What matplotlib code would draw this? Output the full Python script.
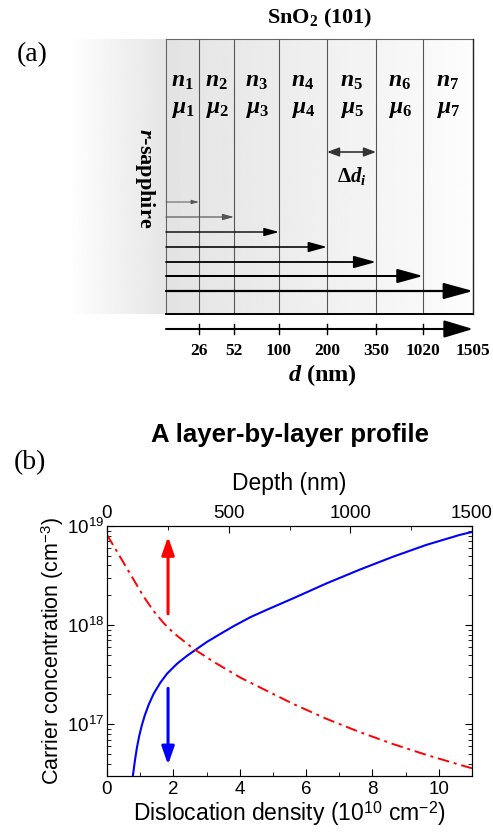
import numpy as np
import matplotlib
matplotlib.use("Agg")
import matplotlib.pyplot as plt
from matplotlib.ticker import MultipleLocator, LogLocator, NullFormatter

plt.rcParams['mathtext.fontset'] = 'custom'
plt.rcParams['mathtext.rm'] = 'Liberation Serif:bold'
plt.rcParams['mathtext.bf'] = 'Liberation Serif:bold'
plt.rcParams['mathtext.it'] = 'Liberation Serif:italic:bold'

# ---- panel (a): layer schematic ----
layer_ids = [1, 2, 3, 4, 5, 6, 7]
depth_labels = ['26', '52', '100', '200', '350', '1020', '1505']
# drawing geometry of the schematic (pixel units of the panel)
bound_x = [166, 199, 234, 279, 327, 376, 423, 473]
arrow_y = [202, 217, 232, 247, 262, 276, 291]

# ---- panel (b): profiles (log10 of concentration) ----
blue_dd = [0.78, 0.84, 0.90, 0.97, 1.05, 1.14, 1.26, 1.41, 1.61, 1.81, 2.11,
           2.41, 2.71, 3.01, 3.41, 3.82, 4.32, 4.82, 5.61, 6.61, 7.62, 8.62,
           9.63, 10.63, 11.0]
blue_log = [16.48, 16.63, 16.76, 16.88, 16.99, 17.09, 17.20, 17.31, 17.42,
            17.51, 17.61, 17.69, 17.76, 17.83, 17.91, 17.99, 18.08, 18.155,
            18.27, 18.42, 18.56, 18.69, 18.81, 18.91, 18.94]
red_depth = [0, 27, 68, 109, 150, 192, 233, 274, 356, 438, 548, 650, 765,
             901, 1039, 1175, 1313, 1450, 1500]
red_log = [18.91, 18.80, 18.63, 18.46, 18.29, 18.14, 18.02, 17.92, 17.76,
           17.63, 17.47, 17.345, 17.205, 17.055, 16.92, 16.80, 16.69, 16.59,
           16.555]

fig = plt.figure(figsize=(4.93, 8.33), dpi=100)

# panel (a) drawn in pixel coordinates of the top part of the figure
axa = fig.add_axes([0, 1 - 400 / 833, 1, 400 / 833])
axa.set_xlim(0, 493)
axa.set_ylim(400, 0)
axa.axis('off')

top, bot = 39, 314
grad = np.linspace(0, 1, 256)[None, :]
axa.imshow(1 - 0.10 * grad, cmap='gray', vmin=0, vmax=1, aspect='auto',
           extent=[67, bound_x[0], bot, top], zorder=0)
axa.imshow(0.89 + 0.10 * grad, cmap='gray', vmin=0, vmax=1, aspect='auto',
           extent=[bound_x[0], bound_x[-1], bot, top], zorder=0)

for x in bound_x[1:-1]:
    axa.plot([x, x], [top, bot], color='#555555', lw=0.8)
axa.plot([bound_x[0], bound_x[-1]], [top, top], color='#666666', lw=0.8)
axa.plot([bound_x[0], bound_x[0]], [top, bot], color='#666666', lw=0.8)
axa.plot([bound_x[-1], bound_x[-1]], [top, bot], color='#222222', lw=1.0)
axa.plot([bound_x[0], bound_x[-1]], [bot, bot], color='black', lw=1.4)

for i, k in enumerate(layer_ids):
    xc = 0.5 * (bound_x[i] + bound_x[i + 1])
    axa.text(xc, 80, r'$n_{%d}$' % k, ha='center', va='center', fontsize=17)
    axa.text(xc, 108, r'$\mu_{%d}$' % k, ha='center', va='center', fontsize=17)

for i, y in enumerate(arrow_y):
    lw = 0.7 + 0.15 * i
    col = '#555555' if i < 2 else 'black'
    axa.annotate('', xy=(bound_x[i + 1], y), xytext=(bound_x[0], y),
                 arrowprops=dict(arrowstyle='-|>,head_length=0.4,head_width=0.11',
                                 color=col, lw=lw, mutation_scale=11 + 5.7 * i,
                                 shrinkA=0, shrinkB=0))

axa.annotate('', xy=(bound_x[5], 152), xytext=(bound_x[4], 152),
             arrowprops=dict(arrowstyle='<|-|>,head_length=0.4,head_width=0.15',
                             color='#333333', lw=1.2, mutation_scale=18,
                             shrinkA=0, shrinkB=0))
axa.text(0.5 * (bound_x[4] + bound_x[5]), 176, r'$\Delta d_i$',
         ha='center', va='center', fontsize=15)

axa.annotate('', xy=(bound_x[-1], 329), xytext=(bound_x[0], 329),
             arrowprops=dict(arrowstyle='-|>,head_length=0.4,head_width=0.12',
                             color='black', lw=1.5, mutation_scale=45,
                             shrinkA=0, shrinkB=0))
for x, lab in zip(bound_x[1:], depth_labels):
    if x != bound_x[-1]:
        axa.plot([x, x], [324, 334], color='black', lw=1.0)
    axa.text(x, 351, lab, ha='center', va='center', fontsize=12.5,
             family='Liberation Serif', weight='bold')
axa.text(322, 375, r'$d$ (nm)', ha='center', va='center', fontsize=17.5,
         family='Liberation Serif', weight='bold')

axa.text(320, 18, r'SnO$_2$ (101)', ha='center', va='center', fontsize=16,
         family='Liberation Serif', weight='bold')
axa.text(145, 178, r'$r$-sapphire', ha='center', va='center', fontsize=16,
         rotation=-90, family='Liberation Serif', weight='bold')
axa.text(32, 55, '(a)', ha='center', va='center', fontsize=20,
         family='Liberation Serif')

# ---- panel (b) ----
sans = 'Liberation Sans'
ax = fig.add_axes([107 / 493, 1 - 776 / 833, 365 / 493, 250 / 833])
ax.set_yscale('log')
ax.plot(blue_dd, 10.0 ** np.array(blue_log), color='#0000ff', lw=1.5)
ax.set_xlim(0, 11)
ax.set_ylim(3e16, 1e19)
ax.xaxis.set_major_locator(MultipleLocator(2))
ax.xaxis.set_minor_locator(MultipleLocator(1))
ax.yaxis.set_major_locator(LogLocator(base=10, numticks=10))
ax.yaxis.set_minor_locator(LogLocator(base=10, subs=np.arange(2, 10), numticks=20))
ax.yaxis.set_minor_formatter(NullFormatter())
ax.tick_params(which='both', direction='in', right=True, labelsize=13.5)
ax.tick_params(which='major', length=5)
ax.tick_params(which='minor', length=3)
ax.tick_params(axis='y', pad=2)
for lab in ax.get_xticklabels() + ax.get_yticklabels():
    lab.set_family(sans)
ax.set_xlabel(r'Dislocation density (10$^{\mathdefault{10}}$ cm$^{\mathdefault{-2}}$)',
              family=sans, fontsize=16.5, labelpad=1)
ax.set_ylabel(r'Carrier concentration (cm$^{\mathdefault{-3}}$)',
              family=sans, fontsize=15.5, labelpad=1)

axt = ax.twiny()
axt.plot(red_depth, 10.0 ** np.array(red_log), color='#ff0000', lw=1.4,
         linestyle=(0, (6, 2.5, 1.5, 2.5)))
axt.set_xlim(0, 1500)
axt.xaxis.set_major_locator(MultipleLocator(500))
axt.xaxis.set_minor_locator(MultipleLocator(250))
axt.tick_params(which='both', direction='in', labelsize=13.5, pad=3)
axt.tick_params(which='major', length=5)
axt.tick_params(which='minor', length=3)
for lab in axt.get_xticklabels():
    lab.set_family(sans)
axt.set_xlabel('Depth (nm)', family=sans, fontsize=16.5, labelpad=11)

ax.annotate('', xy=(1.84, 7.8e18), xytext=(1.84, 1.3e18),
            arrowprops=dict(arrowstyle='-|>,head_length=0.4,head_width=0.14',
                            color='#ff0000', lw=2.2, mutation_scale=27,
                            shrinkA=0, shrinkB=0))
ax.annotate('', xy=(1.84, 3.9e16), xytext=(1.84, 2.3e17),
            arrowprops=dict(arrowstyle='-|>,head_length=0.4,head_width=0.14',
                            color='#0000ff', lw=2.2, mutation_scale=27,
                            shrinkA=0, shrinkB=0))

fig.text(290 / 493, 1 - 435 / 833, 'A layer-by-layer profile', ha='center',
         va='center', family=sans, weight='bold', fontsize=18.5)
fig.text(30 / 493, 1 - 463 / 833, '(b)', ha='center', va='center',
         family='Liberation Serif', fontsize=20)

fig.savefig('out.png', dpi=100)
